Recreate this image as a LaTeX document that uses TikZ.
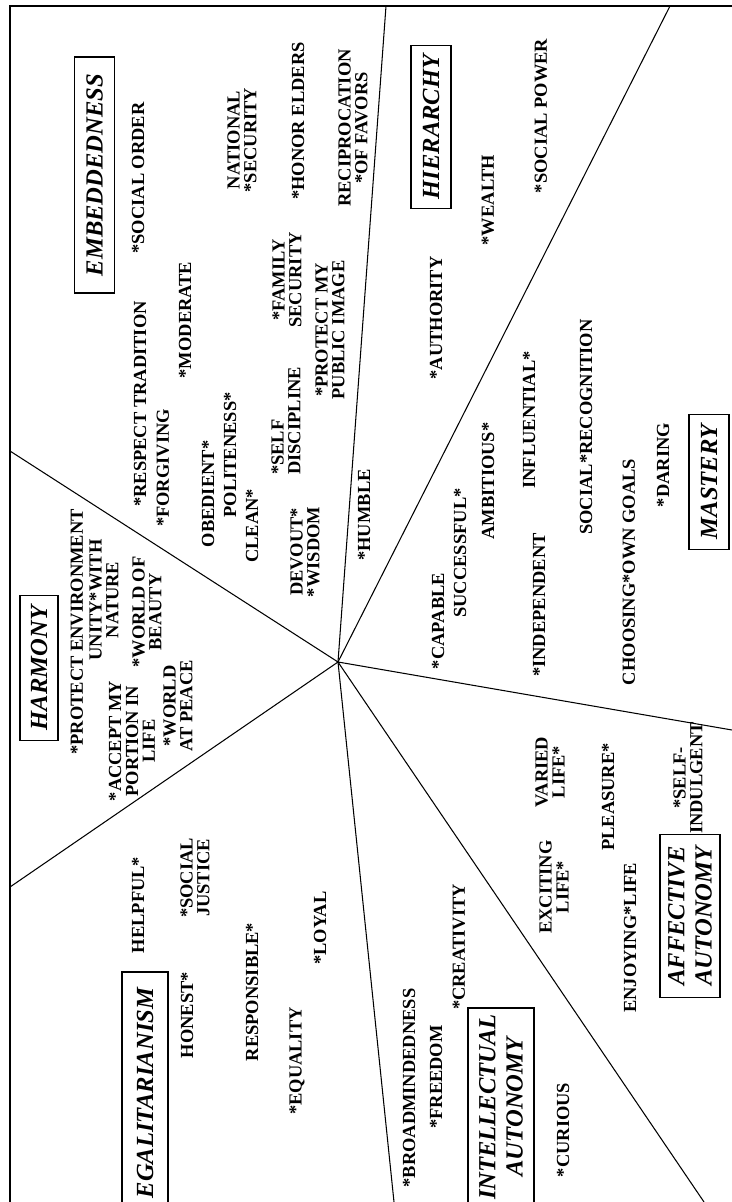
\documentclass[tikz,border=0pt]{standalone}
\usepackage{fontspec}
\setmainfont{Liberation Serif}
\newcommand{\valfont}{\fontsize{10.5}{9.6}\selectfont\bfseries}
\newcommand{\domfont}{\fontsize{14}{15.5}\selectfont\bfseries\itshape}

\begin{document}
\begin{tikzpicture}[x=0.02cm,y=-0.02cm,
  value/.style={rotate=90,inner sep=0pt,align=center,font=\valfont},
  dombox/.style={rotate=90,draw,line width=0.8pt,inner sep=0pt,align=center,font=\domfont,minimum height=0.8cm},
  spoke/.style={line width=0.6pt},
  border/.style={line width=0.9pt}]

\useasboundingbox (0,0) rectangle (732,1202);

%% frame (runs off the page at right and bottom)
\coordinate (fbl) at (10,1215);
\coordinate (ftl) at (10,6);
\coordinate (ftr) at (745,6);
\draw [border] (fbl) -- (ftl) -- (ftr);

%% spokes
\coordinate (hub) at (338,662);
\coordinate (sN)  at (386,6);
\coordinate (sNE) at (670,6);
\coordinate (sE)  at (732,730);
\coordinate (sSE) at (704,1202);
\coordinate (sS)  at (394,1202);
\coordinate (sSW) at (10,887);
\coordinate (sNW) at (10,451);
\foreach \e in {sN,sNE,sE,sSE,sS,sSW,sNW}
  \draw [spoke] (hub) -- (\e);

%% domains
\node [dombox,minimum width=4.72cm] (embed) at (94.5,175) {EMBEDDEDNESS};
\node [dombox,minimum width=3.26cm] (hier) at (431,127) {HIERARCHY};
\node [dombox,minimum width=2.7cm] (mast) at (709,482) {MASTERY};
\node [dombox,minimum width=2.9cm,minimum height=0.76cm] (harm) at (39,668) {HARMONY};
\node [dombox,minimum width=4.84cm,minimum height=0.92cm] (egal) at (145,1093) {EGALITARIANISM};
\node [dombox,minimum width=3.96cm,minimum height=1.32cm] (intel) at (501,1107) {INTELLECTUAL\\AUTONOMY};
\node [dombox,minimum width=3.26cm,minimum height=1.2cm] (affect) at (690,916) {AFFECTIVE\\AUTONOMY};

%% values
% embeddedness
\node [value] (socorder) at (138,178) {*SOCIAL ORDER};
\node [value] (natsec) at (242,140) {NATIONAL\\*SECURITY};
\node [value] (honor) at (298,121) {*HONOR ELDERS};
\node [value] (recip) at (353,128) {RECIPROCATION\\*OF FAVORS};
\node [value] (tradition) at (140,404) {*RESPECT TRADITION};
\node [value] (moderate) at (185,320) {*MODERATE};
\node [value] (forgiving) at (163,468) {*FORGIVING};
\node [value] (obedient) at (208,494) {OBEDIENT*};
\node [value] (politeness) at (230,455) {POLITENESS*};
\node [value] (clean) at (252,526) {CLEAN*};
\node [value,align=left] (selfdisc) at (286,421) {*SELF\\DISCIPLINE};
\node [value] (famsec) at (287,280) {*FAMILY\\SECURITY};
\node [value] (pubimage) at (330,330) {*PROTECT MY\\PUBLIC IMAGE};
\node [value] (devout) at (305,552) {DEVOUT*\\*WISDOM};
\node [value] (humble) at (364,515) {*HUMBLE};
% harmony
\node [value] (protenv) at (77,632) {*PROTECT ENVIRONMENT};
\node [value] (unity) at (104,600) {UNITY*WITH\\NATURE};
\node [value] (beauty) at (147,612) {*WORLD OF\\BEAUTY};
\node [value] (accept) at (132,741) {*ACCEPT MY\\PORTION IN\\LIFE};
\node [value] (peace) at (178,706) {*WORLD\\AT PEACE};
% egalitarianism
\node [value] (helpful) at (138,905) {HELPFUL*};
\node [value] (socjust) at (195,878) {*SOCIAL\\JUSTICE};
\node [value] (honest) at (187,1015) {HONEST*};
\node [value] (respons) at (252,992) {RESPONSIBLE*};
\node [value] (equality) at (297,1061) {*EQUALITY};
\node [value] (loyal) at (320,928) {*LOYAL};
% intellectual autonomy
\node [value] (broad) at (409,1088) {*BROADMINDEDNESS};
\node [value] (freedom) at (436,1077) {*FREEDOM};
\node [value] (creativ) at (459,947) {*CREATIVITY};
\node [value] (curious) at (563,1130) {*CURIOUS};
% affective autonomy
\node [value] (exciting) at (554,887) {EXCITING\\LIFE*};
\node [value] (varied) at (550,772) {VARIED\\LIFE*};
\node [value] (pleasure) at (608,797) {PLEASURE*};
\node [value] (enjoying) at (630,938) {ENJOYING*LIFE};
\node [value] (indulg) at (688,778) {*SELF-\\INDULGENT};
% mastery
\node [value] (capable) at (438,621) {*CAPABLE};
\node [value] (success) at (460,553) {SUCCESSFUL*};
\node [value] (ambit) at (488,481) {AMBITIOUS*};
\node [value] (influ) at (529,420) {INFLUENTIAL*};
\node [value] (indep) at (539,605) {*INDEPENDENT};
\node [value] (recog) at (586,427) {SOCIAL*RECOGNITION};
\node [value] (choosing) at (629,572) {CHOOSING*OWN GOALS};
\node [value] (daring) at (663,465) {*DARING};
% hierarchy
\node [value] (authority) at (436,318) {*AUTHORITY};
\node [value] (wealth) at (488,200) {*WEALTH};
\node [value] (socpower) at (541,116) {*SOCIAL POWER};

\end{tikzpicture}
\end{document}
